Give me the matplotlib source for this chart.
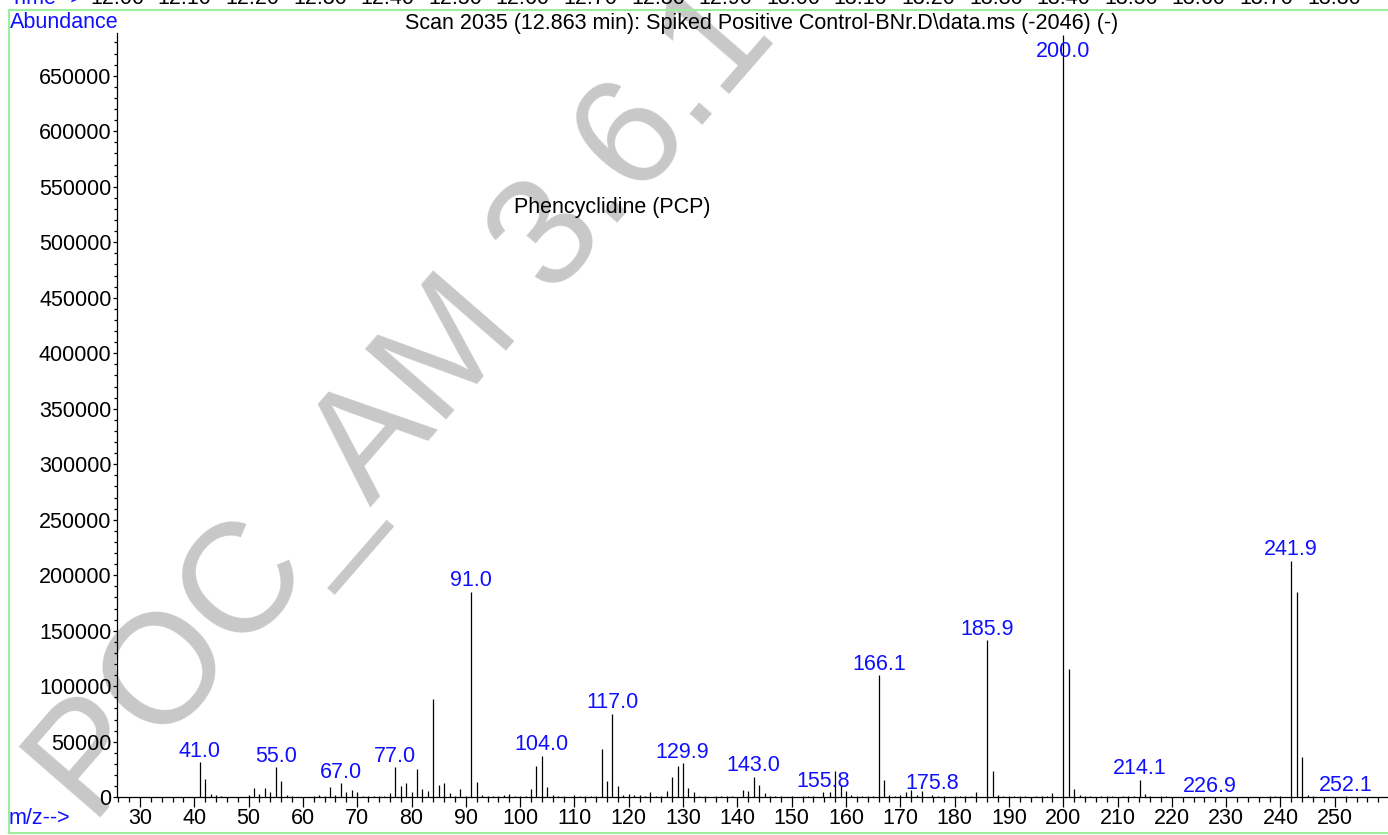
import numpy as np
import matplotlib
matplotlib.use('Agg')
import matplotlib.pyplot as plt
from matplotlib.lines import Line2D
from matplotlib.ticker import MultipleLocator
from matplotlib.transforms import blended_transform_factory

plt.rcParams['font.family'] = ['Liberation Sans', 'DejaVu Sans']

## Spectrum data (m/z, abundance)

mz = [41.0, 42, 43, 44, 45, 50, 51, 52, 53, 54, 55.0, 56, 57, 58, 59, 60, 62, 63, 64,
      65, 66, 67.0, 68, 69, 70, 71, 72, 73, 74, 75, 76, 77.0, 78, 79, 80, 81, 82, 83,
      84, 85, 86, 87, 88, 89, 90, 91.0, 92, 93, 94, 95, 96, 97, 98, 99, 100, 101, 102,
      103, 104.0, 105, 106, 107, 108, 110, 111, 112, 113, 114, 115, 116, 117.0, 118,
      119, 120, 121, 122, 123, 124, 125, 126, 127, 128, 129, 129.9, 131, 132, 133, 134,
      136, 137, 138, 139, 141, 142, 143.0, 144, 145, 146, 147, 148, 150, 152, 153, 154,
      155.8, 157, 158, 159, 160, 161, 162, 163, 164, 165, 166.1, 167, 168, 169, 170,
      171, 172, 173, 174, 175.8, 177, 178, 180, 181, 182, 183, 184, 185.9, 187, 188,
      189, 190, 191, 192, 193, 195, 196, 197, 198, 200.0, 201, 202, 203, 204, 205, 207,
      208, 209, 211, 212, 213, 214.1, 215, 216, 218, 219, 221, 229, 235, 238, 239, 240,
      241.9, 243, 244, 245, 246, 252.1]
abundance = [31500, 16500, 3000, 2500, 800, 2500, 8000, 3000, 8000, 5000, 27000, 14500,
             2500, 1000, 700, 600, 1200, 2500, 1000, 9500, 2000, 12500, 5000, 6500, 4500,
             1500, 1000, 800, 1500, 1500, 4000, 27000, 10500, 12500, 5000, 25500, 7500,
             6000, 88500, 11500, 13000, 4000, 1000, 7500, 1500, 185000, 13800, 2000, 1200,
             1000, 1500, 2000, 3000, 1000, 800, 1500, 7500, 28500, 37500, 9000, 2500, 1500,
             1500, 2000, 800, 800, 1200, 1000, 43500, 14500, 75000, 10000, 2000, 3000,
             2000, 2000, 1000, 5000, 1000, 1500, 5500, 18000, 28000, 30500, 8000, 5000,
             1200, 1000, 1000, 1200, 1000, 800, 7000, 5500, 18500, 11000, 3500, 1500,
             1000, 800, 800, 1000, 1000, 1200, 4500, 5000, 23500, 11000, 5500, 2000, 1500,
             1000, 1200, 1000, 110000, 16000, 2000, 1000, 2500, 5000, 7000, 2000, 5500,
             2500, 1200, 1000, 1000, 1000, 1200, 1500, 4500, 141500, 23500, 2500, 1000,
             800, 1000, 1500, 1000, 1000, 800, 1200, 4000, 687000, 116000, 7500, 2000,
             1000, 1000, 1500, 1000, 1000, 1000, 1500, 1500, 15600, 3000, 1000, 800, 800,
             600, 600, 700, 800, 1000, 1200, 213000, 185000, 36000, 2500, 800, 800]

# peaks tagged with their m/z value
labeled_mz = [41.0, 55.0, 67.0, 77.0, 91.0, 104.0, 117.0, 129.9, 143.0, 155.8, 166.1,
              175.8, 185.9, 200.0, 214.1, 226.9, 241.9, 252.1]

# retention time ruler along the top
times = [12.00, 12.10, 12.20, 12.30, 12.40, 12.50, 12.60, 12.70, 12.80, 12.90,
         13.00, 13.10, 13.20, 13.30, 13.40, 13.50, 13.60, 13.70, 13.80]

title = r'Scan 2035 (12.863 min): Spiked Positive Control-BNr.D\data.ms (-2046) (-)'
compound = 'Phencyclidine (PCP)'

## Figure

W, H = 1388, 835
FS = 15.5
BLUE = '#1010ff'
fig = plt.figure(figsize=(W / 100, H / 100), dpi=100)
fig.patch.set_facecolor('white')

def fx(px):
    return px / W

def fy(py):
    return 1 - py / H

ymax = 688500
ax = fig.add_axes([fx(117), fy(797.3), 1 - fx(117), fy(33) - fy(797.3)])
ax.set_facecolor('none')
ax.set_xlim(25.77, 259.8)
ax.set_ylim(0, ymax)

ax.vlines(mz, 0, abundance, color='k', lw=0.9, zorder=3)

for s in ['top', 'right']:
    ax.spines[s].set_visible(False)
for s in ['left', 'bottom']:
    ax.spines[s].set_linewidth(0.9)

ax.xaxis.set_major_locator(MultipleLocator(10))
ax.xaxis.set_minor_locator(MultipleLocator(2))
ax.yaxis.set_major_locator(MultipleLocator(50000))
ax.yaxis.set_minor_locator(MultipleLocator(10000))
ax.tick_params(axis='x', which='major', length=7, width=0.9, pad=0.5, labelsize=FS)
ax.tick_params(axis='x', which='minor', length=3.5, width=0.9)
ax.tick_params(axis='y', which='major', length=3, width=0.9, pad=1, labelsize=FS)
ax.tick_params(axis='y', which='minor', length=2, width=0.9)
ax.set_xticks(np.arange(30, 251, 10))
ax.set_yticks(np.arange(0, 650001, 50000))
ax.set_yticklabels([str(v) for v in np.arange(0, 650001, 50000)])

# peak labels in blue
mz_arr = np.array(mz, dtype=float)
ab_arr = np.array(abundance, dtype=float)
for m in labeled_mz:
    near = np.abs(mz_arr - m) < 0.05
    h = ab_arr[near].max() if near.any() else 0
    if h > 0.95 * ymax:
        ax.annotate('%.1f' % m, xy=(m, 1), xycoords=('data', 'axes fraction'),
                    xytext=(0, -6), textcoords='offset points',
                    ha='center', va='top', color=BLUE, fontsize=FS, zorder=4)
    else:
        ax.annotate('%.1f' % m, xy=(m, h), xytext=(0, 4), textcoords='offset points',
                    ha='center', va='baseline', color=BLUE, fontsize=FS, zorder=4)

fig.text(fx(514), fy(207), compound, fontsize=FS, va='center', ha='left')

## Header and frame

fig.text(fx(10), fy(23), 'Abundance', color=BLUE, fontsize=FS, va='center', ha='left')
fig.text(fx(762), fy(23), title, color='k', fontsize=FS, va='center', ha='center')
fig.text(fx(9), fy(819), 'm/z-->', color=BLUE, fontsize=FS, va='center', ha='left')

fig.text(fx(10), fy(-1), 'Time-->', color=BLUE, fontsize=FS, va='center', ha='left')
ax_t = fig.add_axes([fx(117), 0.99, fx(1334) - fx(117), 0.001])
ax_t.set_xlim(times[0], times[-1])
ax_t.axis('off')
tr = blended_transform_factory(ax_t.transData, fig.transFigure)
for t in times:
    fig.text(t, fy(-1), '%.2f' % t, transform=tr, fontsize=FS, va='center', ha='center')

green = '#9cee9c'
fig.add_artist(Line2D([fx(9), 1], [fy(10), fy(10)], color=green, lw=1.5))
fig.add_artist(Line2D([fx(9), fx(9)], [fy(10), fy(832.5)], color=green, lw=1.5))
fig.add_artist(Line2D([fx(9), 1], [fy(832.5), fy(832.5)], color=green, lw=1.5))

# watermark behind everything
fig.text(fx(405), fy(405), 'POC_AM 3.6.1', rotation=49, rotation_mode='anchor',
         ha='center', va='center', fontsize=112, color='#c8c8c8', zorder=-5)

fig.savefig('out.png', dpi=100)
